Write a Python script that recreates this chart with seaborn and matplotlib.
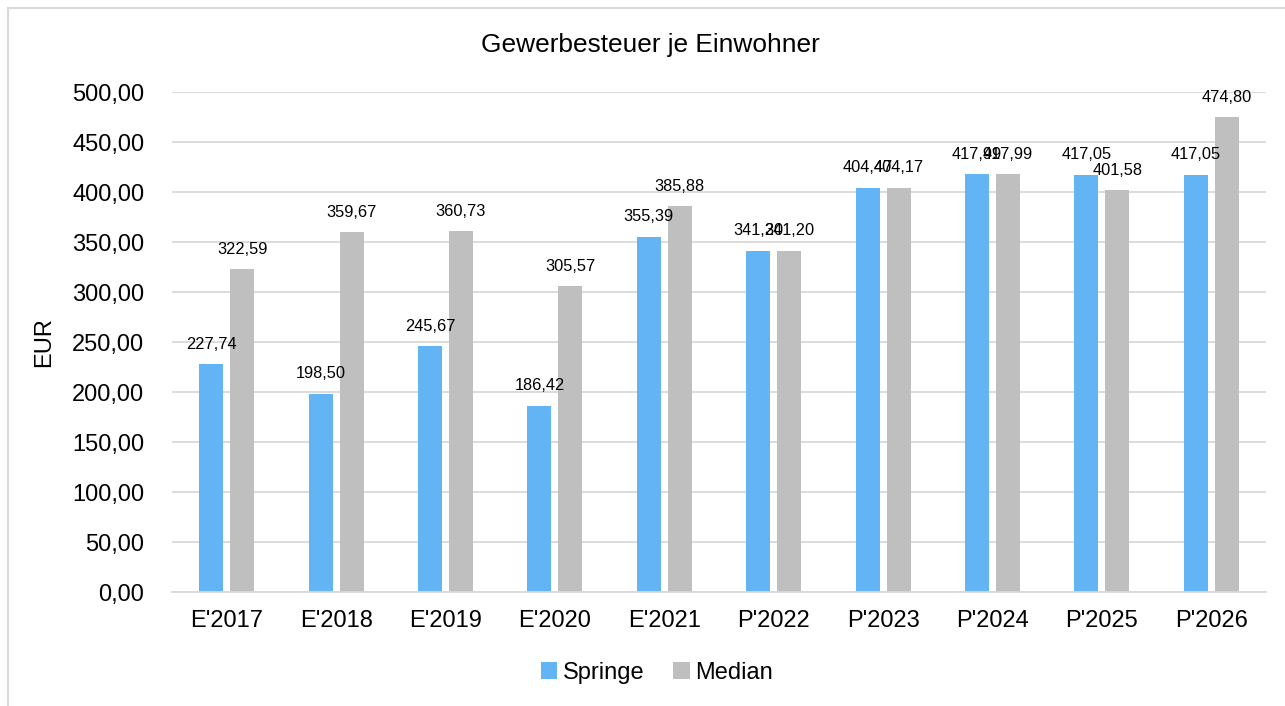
import matplotlib
matplotlib.use("Agg")
import matplotlib.pyplot as plt
import seaborn as sns
import pandas as pd
from matplotlib.patches import Rectangle, Patch

categories = ["E'2017", "E'2018", "E'2019", "E'2020", "E'2021",
              "P'2022", "P'2023", "P'2024", "P'2025", "P'2026"]
springe = [227.74, 198.50, 245.67, 186.42, 355.39, 341.20, 404.47, 417.99, 417.05, 417.05]
median = [322.59, 359.67, 360.73, 305.57, 385.88, 341.20, 404.17, 417.99, 401.58, 474.80]
series_names = ["Springe", "Median"]
colors = ["#63B4F5", "#BFBFBF"]
yticks = [0, 50, 100, 150, 200, 250, 300, 350, 400, 450, 500]

df = pd.DataFrame({
    "Jahr": categories * 2,
    "Wert": springe + median,
    "Reihe": [series_names[0]] * len(categories) + [series_names[1]] * len(categories),
})

sns.set_theme(style="white")
plt.rcParams["font.family"] = ["Liberation Sans", "DejaVu Sans"]
plt.rcParams["text.color"] = "#000000"
plt.rcParams["xtick.color"] = "#000000"
plt.rcParams["ytick.color"] = "#000000"
plt.rcParams["axes.labelcolor"] = "#000000"

fig = plt.figure(figsize=(12.85, 7.06), dpi=100)
ax = fig.add_axes([172 / 1285, 1 - 592 / 706, (1266 - 172) / 1285, (592 - 92) / 706])

sns.barplot(data=df, x="Jahr", y="Wert", hue="Reihe", order=categories,
            hue_order=series_names, palette=colors, width=0.566, gap=0.22,
            saturation=1, ax=ax, legend=False, linewidth=0)

def fmt(v):
    return f"{v:.2f}".replace(".", ",")

for cont in ax.containers:
    ax.bar_label(cont, labels=[fmt(b.get_height()) for b in cont],
                 padding=9, fontsize=11.8, color="#000000")

ax.set_xlim(-0.5, len(categories) - 0.5)
ax.set_ylim(0, 500)
ax.set_yticks(yticks)
ax.set_yticklabels([fmt(v) for v in yticks], fontsize=17, color="#000000")
ax.tick_params(axis="x", labelsize=17, pad=13, length=0, colors="#000000")
ax.tick_params(axis="y", pad=20, length=0, colors="#000000")
ax.set_xlabel("")
ax.set_ylabel("EUR", fontsize=17, labelpad=12, color="#000000")
ax.yaxis.grid(True, color="#D9D9D9", linewidth=1.3)
ax.set_axisbelow(True)
for s in ["top", "right", "left"]:
    ax.spines[s].set_visible(False)
ax.spines["bottom"].set_color("#D9D9D9")
ax.spines["bottom"].set_linewidth(1.3)

fig.text(650 / 1285, 1 - 45 / 706, "Gewerbesteuer je Einwohner",
         ha="center", va="center", fontsize=18.9, color="#000000")

handles = [Patch(facecolor=c, edgecolor="none") for c in colors]
leg = fig.legend(handles, series_names, loc="center", bbox_to_anchor=(657 / 1285, 1 - 673 / 706),
                 ncol=2, frameon=False, fontsize=17, handlelength=0.7, handleheight=0.7,
                 handletextpad=0.25, columnspacing=1.2)
for t in leg.get_texts():
    t.set_color("#000000")

fig.patches.append(Rectangle((8 / 1285, -0.01), 1.02, 1 - 8 / 706 + 0.01,
                             transform=fig.transFigure, fill=False,
                             edgecolor="#D9D9D9", linewidth=1.5))

fig.savefig("out.png", dpi=100, facecolor="white")
